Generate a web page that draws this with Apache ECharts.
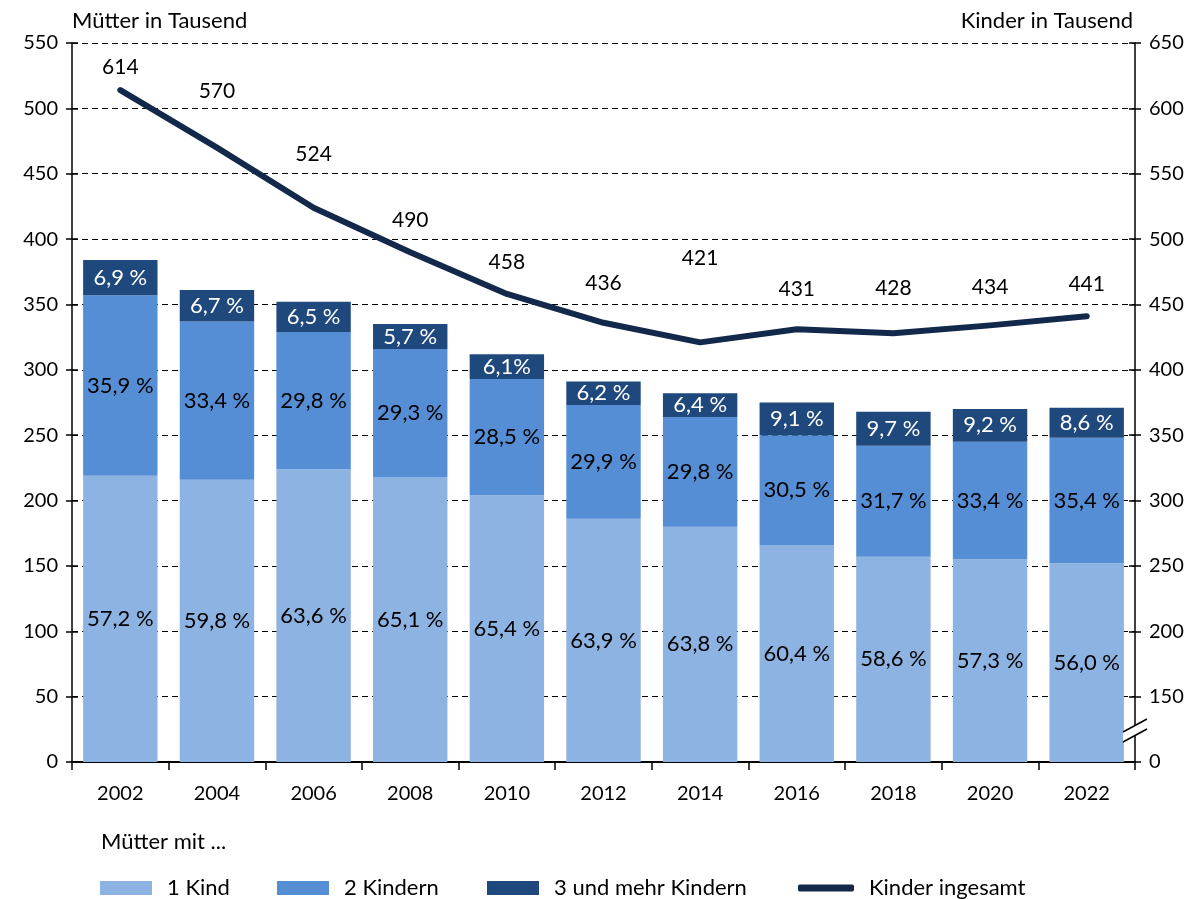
<!DOCTYPE html>
<html>
<head>
<meta charset="utf-8">
<script src="https://cdn.jsdelivr.net/npm/echarts@6/dist/echarts.min.js"></script>
<style>
  html, body { margin: 0; padding: 0; background: #fff; }
  #chart { width: 1196px; height: 899px; }
</style>
</head>
<body>
<div id="chart"></div>
<script>
// Jahre
const years = ['2002', '2004', '2006', '2008', '2010', '2012', '2014', '2016', '2018', '2020', '2022'];

// Mütter in Tausend, je Anzahl Kinder (aus dem Bild geschätzt)
const oneChild = [219, 216, 224, 218, 204, 186, 180, 166, 157, 155, 152];
const twoChildren = [138, 121, 105, 98, 89, 87, 84, 84, 85, 90, 96];
const threePlus = [27, 24, 23, 19, 19, 18, 18, 25, 26, 25, 23];

// Anteile als Beschriftung
const oneChildPct = ['57,2 %', '59,8 %', '63,6 %', '65,1 %', '65,4 %', '63,9 %', '63,8 %', '60,4 %', '58,6 %', '57,3 %', '56,0 %'];
const twoChildrenPct = ['35,9 %', '33,4 %', '29,8 %', '29,3 %', '28,5 %', '29,9 %', '29,8 %', '30,5 %', '31,7 %', '33,4 %', '35,4 %'];
const threePlusPct = ['6,9 %', '6,7 %', '6,5 %', '5,7 %', '6,1%', '6,2 %', '6,4 %', '9,1 %', '9,7 %', '9,2 %', '8,6 %'];

// Kinder insgesamt in Tausend
const childrenTotal = [614, 570, 524, 490, 458, 436, 421, 431, 428, 434, 441];

// Abstand der Linienbeschriftung über dem Punkt (px)
const lineLabelDy = [-23, -56, -53, -32, -32, -40, -84, -40, -45, -38, -32];

const FONT = 'Lato';
const C1 = '#8db3e2';
const C2 = '#558ed5';
const C3 = '#1f487c';
const CLINE = '#13294b';

const chart = echarts.init(document.getElementById('chart'));

function barSeries(name, values, labels, color, textColor) {
  return {
    name: name,
    type: 'bar',
    stack: 'muetter',
    barCategoryGap: '23%',
    yAxisIndex: 0,
    data: values,
    itemStyle: { color: color },
    label: {
      show: true,
      position: 'inside',
      color: textColor,
      fontFamily: FONT,
      fontSize: 22,
      formatter: function (p) { return labels[p.dataIndex]; }
    },
    emphasis: { disabled: true }
  };
}

const legendText = { fontFamily: FONT, fontSize: 22, color: '#000', padding: [0, 0, 0, 10] };

function legendAt(name, left, extra) {
  return Object.assign({
    data: [name],
    left: left,
    top: 877,
    padding: 0,
    itemWidth: 52,
    itemHeight: 14,
    icon: 'rect',
    textStyle: legendText,
    selectedMode: false
  }, extra || {});
}

const titles = [
  { type: 'text', left: 72, top: 10, style: { text: 'Mütter in Tausend', font: '22px ' + FONT, fill: '#000' } },
  { type: 'text', right: 63, top: 10, style: { text: 'Kinder in Tausend', font: '22px ' + FONT, fill: '#000', textAlign: 'right' } },
  { type: 'text', left: 101, top: 831, style: { text: 'Mütter mit ...', font: '22px ' + FONT, fill: '#000' } }
];

const option = {
  animation: false,
  backgroundColor: '#fff',
  textStyle: { fontFamily: FONT },
  grid: { left: 72, right: 61, top: 43, bottom: 137, containLabel: false },
  legend: [
    legendAt('1 Kind', 100),
    legendAt('2 Kindern', 277),
    legendAt('3 und mehr Kindern', 487),
    legendAt('Kinder ingesamt', 798, { icon: 'roundRect', itemWidth: 56, itemHeight: 7, itemStyle: { color: CLINE } })
  ],
  graphic: titles,
  xAxis: {
    type: 'category',
    data: years,
    boundaryGap: true,
    axisLine: { lineStyle: { color: '#000', width: 2 } },
    axisTick: { show: true, length: 8, lineStyle: { color: '#000', width: 1.5 } },
    axisLabel: { color: '#000', fontFamily: FONT, fontSize: 20, margin: 22 }
  },
  yAxis: [
    {
      type: 'value',
      min: 0,
      max: 550,
      interval: 50,
      position: 'left',
      axisLine: { show: true, lineStyle: { color: '#000', width: 1.5 } },
      axisTick: { show: true, length: 6, lineStyle: { color: '#000', width: 1.5 } },
      axisLabel: { color: '#000', fontFamily: FONT, fontSize: 20, margin: 14 },
      splitLine: { show: true, lineStyle: { color: '#000', width: 1, type: [6, 4] } }
    },
    {
      type: 'value',
      min: 100,
      max: 650,
      interval: 50,
      position: 'right',
      axisLine: { show: true, lineStyle: { color: '#000', width: 1.5 } },
      axisTick: { show: true, length: 6, lineStyle: { color: '#000', width: 1.5 } },
      axisLabel: {
        color: '#000', fontFamily: FONT, fontSize: 20, margin: 14,
        formatter: function (v) { return v === 100 ? '0' : String(v); }
      },
      splitLine: { show: false }
    },
    {
      type: 'value', min: 0, max: 550, interval: 50, position: 'left',
      axisLine: { show: false },
      axisTick: { show: true, inside: true, length: 6, lineStyle: { color: '#000', width: 1.5 } },
      axisLabel: { show: false }, splitLine: { show: false }
    },
    {
      type: 'value', min: 0, max: 550, interval: 50, position: 'right',
      axisLine: { show: false },
      axisTick: { show: true, inside: true, length: 6, lineStyle: { color: '#000', width: 1.5 } },
      axisLabel: { show: false }, splitLine: { show: false }
    }
  ],
  series: [
    barSeries('1 Kind', oneChild, oneChildPct, C1, '#000'),
    barSeries('2 Kindern', twoChildren, twoChildrenPct, C2, '#000'),
    barSeries('3 und mehr Kindern', threePlus, threePlusPct, C3, '#fff'),
    {
      name: 'Kinder ingesamt',
      type: 'line',
      yAxisIndex: 1,
      z: 5,
      symbol: 'circle',
      symbolSize: 0,
      showSymbol: true,
      lineStyle: { color: CLINE, width: 6, cap: 'round', join: 'round' },
      itemStyle: { color: CLINE },
      data: childrenTotal.map(function (v, i) {
        return {
          value: v,
          label: { offset: [0, lineLabelDy[i]] }
        };
      }),
      label: {
        show: true,
        position: 'inside',
        color: '#000',
        fontFamily: FONT,
        fontSize: 21
      },
      emphasis: { disabled: true }
    }
  ]
};

chart.setOption(option);

// Achsenbruch auf der rechten Achse
const axisX = 1196 - 61;
const breakY = chart.convertToPixel({ yAxisIndex: 1 }, 126);
chart.setOption({
  graphic: titles.concat([
    {
      type: 'polygon', z: 100,
      shape: { points: [[axisX - 12, breakY + 4], [axisX + 12, breakY - 9], [axisX + 12, breakY + 1], [axisX - 12, breakY + 14]] },
      style: { fill: '#fff' }
    },
    {
      type: 'line', z: 101,
      shape: { x1: axisX - 12, y1: breakY + 4, x2: axisX + 12, y2: breakY - 9 },
      style: { stroke: '#000', lineWidth: 1.5 }
    },
    {
      type: 'line', z: 101,
      shape: { x1: axisX - 12, y1: breakY + 14, x2: axisX + 12, y2: breakY + 1 },
      style: { stroke: '#000', lineWidth: 1.5 }
    }
  ])
});
</script>
</body>
</html>
